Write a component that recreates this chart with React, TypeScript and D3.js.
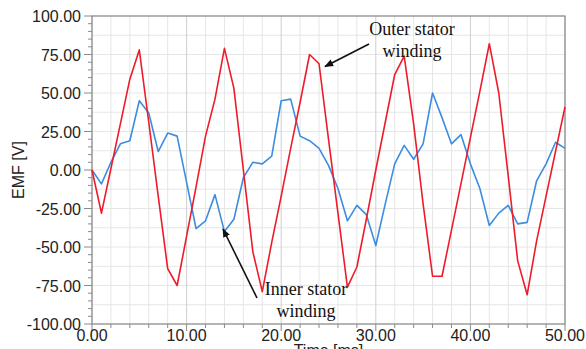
import React from "react";
import * as d3 from "d3";

// Time axis samples, ms
const timeMs: number[] = d3.range(0, 51);

// Back-EMF of the outer stator winding, V
const outerEmf: number[] = [
  0, -28, 1, 30, 59, 78, 31, -17, -64, -75,
  -43, -11, 22, 46, 79, 53, 0, -53, -79, -47,
  -17, 14, 44, 75, 69, 20, -28, -76, -63, -32,
  0, 31, 62, 74, 30, -22, -69, -69, -39, -9,
  21, 51, 82, 50, -4, -59, -81, -46, -17, 12,
  41,
];

// Back-EMF of the inner stator winding, V
const innerEmf: number[] = [
  0, -9, 5, 17, 19, 45, 37, 12, 24, 22,
  -8, -38, -33, -16, -40, -32, -5, 5, 4, 9,
  45, 46, 22, 19, 14, 3, -12, -33, -23, -29,
  -49, -22, 4, 16, 7, 17, 50, 34, 17, 23,
  4, -12, -36, -28, -23, -35, -34, -7, 4, 18,
  14,
];

const xTicks: number[] = [0, 10, 20, 30, 40, 50];
const yTicks: number[] = [100, 75, 50, 25, 0, -25, -50, -75, -100];

const W = 586;
const H = 349;
const left = 92;
const right = 565;
const top = 16;
const bottom = 324;

export default function App() {
  const x = d3.scaleLinear().domain([0, 50]).range([left, right]);
  const y = d3.scaleLinear().domain([-100, 100]).range([bottom, top]);

  const line = d3
    .line<number>()
    .x((_, i) => x(timeMs[i]))
    .y((d) => y(d));

  const xMinor = d3.range(0, 50.001, 2);
  const yMinor = d3.range(-100, 100.001, 5);
  const yGrid = d3.range(-100, 100.001, 12.5);

  const axisFont = "Liberation Sans, Arial, sans-serif";
  const noteFont = "Liberation Serif, 'Times New Roman', serif";

  return (
    <svg
      width={W}
      height={H}
      style={{ position: "absolute", left: 0, top: 0, background: "#fff" }}
    >
      <defs>
        <marker
          id="arrowHead"
          viewBox="0 0 10 10"
          refX="9"
          refY="5"
          markerWidth="9"
          markerHeight="9"
          orient="auto"
          markerUnits="userSpaceOnUse"
        >
          <path d="M0,1 L10,5 L0,9 Z" fill="#111" />
        </marker>
      </defs>

      {/* grid */}
      {yGrid.map((v) => (
        <line
          key={"gy" + v}
          x1={left}
          x2={right}
          y1={y(v)}
          y2={y(v)}
          stroke="#e6e6e6"
          strokeWidth={1}
        />
      ))}
      {xMinor.map((t) => (
        <line
          key={"gx" + t}
          x1={x(t)}
          x2={x(t)}
          y1={top}
          y2={bottom}
          stroke={t % 10 === 0 ? "#cfcfcf" : "#e6e6e6"}
          strokeWidth={1}
        />
      ))}

      {/* frame */}
      <rect
        x={left}
        y={top}
        width={right - left}
        height={bottom - top}
        fill="none"
        stroke="#8a8a8a"
        strokeWidth={1.2}
      />

      {/* y ticks */}
      {yMinor.map((v) => (
        <line
          key={"ty" + v}
          x1={v % 25 === 0 ? left - 8 : left - 4}
          x2={left}
          y1={y(v)}
          y2={y(v)}
          stroke="#8a8a8a"
          strokeWidth={1}
        />
      ))}
      {yTicks.map((v) => (
        <text
          key={"ly" + v}
          x={81}
          y={y(v) + 6}
          textAnchor="end"
          fontFamily={axisFont}
          fontSize={16}
          fill="#222"
        >
          {v.toFixed(2)}
        </text>
      ))}

      {/* x ticks */}
      {xMinor.map((t) => (
        <line
          key={"tx" + t}
          x1={x(t)}
          x2={x(t)}
          y1={bottom}
          y2={t % 10 === 0 ? bottom + 7 : bottom + 4}
          stroke="#8a8a8a"
          strokeWidth={1}
        />
      ))}
      {xTicks.map((t) => (
        <text
          key={"lx" + t}
          x={x(t)}
          y={341}
          textAnchor="middle"
          fontFamily={axisFont}
          fontSize={16}
          fill="#222"
        >
          {t.toFixed(2)}
        </text>
      ))}

      {/* axis titles */}
      <text
        transform={`translate(24,${(top + bottom) / 2}) rotate(-90)`}
        textAnchor="middle"
        fontFamily={axisFont}
        fontSize={16}
        fill="#222"
      >
        EMF [V]
      </text>
      <text
        x={(left + right) / 2}
        y={356}
        textAnchor="middle"
        fontFamily={axisFont}
        fontSize={16}
        fill="#222"
      >
        Time [ms]
      </text>

      {/* series */}
      <path
        d={line(innerEmf) ?? ""}
        fill="none"
        stroke="#3c8de0"
        strokeWidth={1.6}
        strokeLinejoin="round"
      />
      <path
        d={line(outerEmf) ?? ""}
        fill="none"
        stroke="#ee1c2a"
        strokeWidth={1.6}
        strokeLinejoin="round"
      />

      {/* annotations */}
      <line
        x1={369}
        y1={44}
        x2={325}
        y2={66.5}
        stroke="#111"
        strokeWidth={1.6}
        markerEnd="url(#arrowHead)"
      />
      <text
        x={412}
        y={35}
        textAnchor="middle"
        fontFamily={noteFont}
        fontSize={18}
        fill="#111"
      >
        Outer stator
      </text>
      <text
        x={412}
        y={57}
        textAnchor="middle"
        fontFamily={noteFont}
        fontSize={18}
        fill="#111"
      >
        winding
      </text>

      <line
        x1={257}
        y1={298}
        x2={223}
        y2={229}
        stroke="#111"
        strokeWidth={1.6}
        markerEnd="url(#arrowHead)"
      />
      <text
        x={306}
        y={295}
        textAnchor="middle"
        fontFamily={noteFont}
        fontSize={18}
        fill="#111"
      >
        Inner stator
      </text>
      <text
        x={306}
        y={317}
        textAnchor="middle"
        fontFamily={noteFont}
        fontSize={18}
        fill="#111"
      >
        winding
      </text>
    </svg>
  );
}
